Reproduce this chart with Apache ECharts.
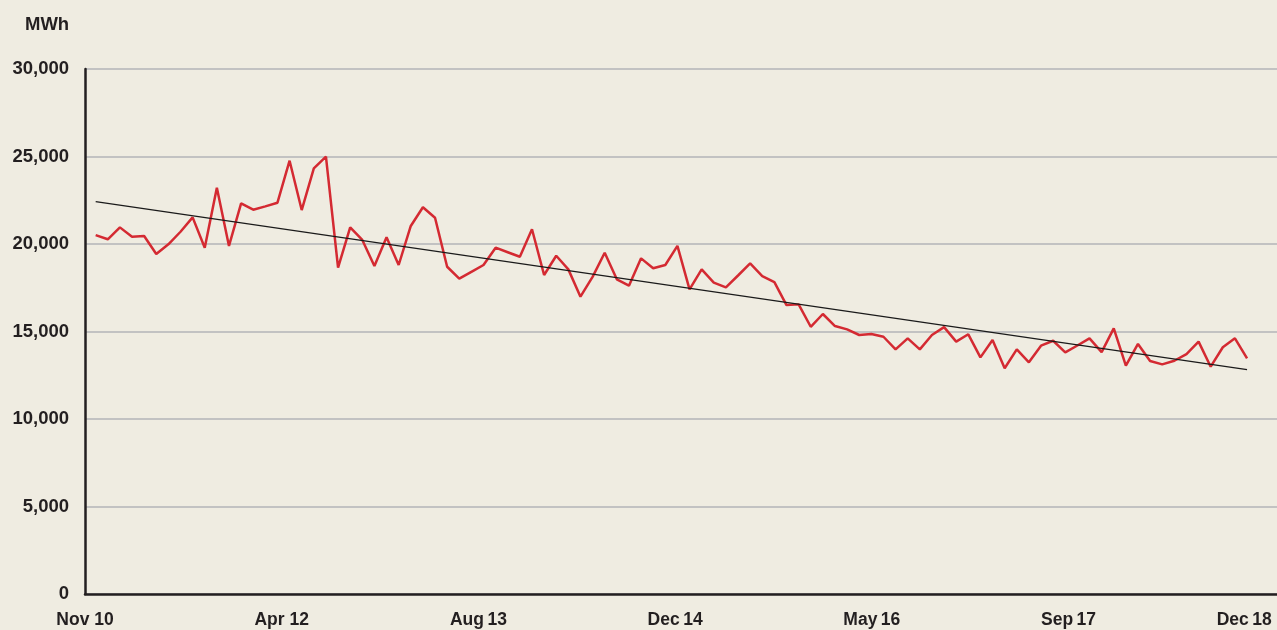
<!DOCTYPE html>
<html>
<head>
<meta charset="utf-8">
<title>MWh</title>
<script src="https://cdn.jsdelivr.net/npm/echarts@6/dist/echarts.min.js"></script>
<style>
  html, body { margin: 0; padding: 0; background: #efece1; }
  #chart { width: 1277px; height: 630px; }
</style>
</head>
<body>
<div id="chart"></div>
<script>
// monthly consumption, MWh (one value per month)
const consumption = [
  20510, 20270, 20950, 20420, 20460, 19430, 19980, 20700, 21520, 19790,
  23220, 19890, 22320, 21960, 22150, 22360, 24760, 21940, 24320, 24990,
  18650, 20950, 20230, 18740, 20380, 18800, 21030, 22100, 21500, 18700,
  18020, 18410, 18800, 19790, 19530, 19270, 20840, 18230, 19330, 18550,
  16990, 18120, 19500, 17980, 17620, 19180, 18610, 18800, 19890, 17410,
  18550, 17790, 17520, 18200, 18890, 18170, 17820, 16510, 16550, 15270,
  16000, 15310, 15120, 14800, 14860, 14700, 13980, 14610, 13980, 14800,
  15250, 14420, 14840, 13520, 14510, 12900, 13980, 13240, 14190, 14470,
  13810, 14200, 14610, 13820, 15180, 13050, 14290, 13310, 13120, 13330,
  13710, 14420, 12990, 14100, 14610, 13470
];
// trend line, value at first and last month
const trendEnds = [22420, 12820];
const xTickLabels = ['Nov 10', 'Apr 12', 'Aug\u200913', 'Dec\u200914', 'May\u200916', 'Sep\u200917', 'Dec\u200918'];
const yTicks = [0, 5000, 10000, 15000, 20000, 25000, 30000];

const xOffset = 0.88;     // first month sits a little right of the axis start
const labelStep = 16.23;  // label spacing in months
const xMax = 98.35;

const lineData = consumption.map((v, i) => [i + xOffset, v]);
const trendData = [
  [xOffset, trendEnds[0]],
  [consumption.length - 1 + xOffset, trendEnds[1]]
];

const font = '"Liberation Sans", Arial, sans-serif';
const ink = '#231f20';

const chart = echarts.init(document.getElementById('chart'));
chart.setOption({
  backgroundColor: '#efece1',
  animation: false,
  title: {
    text: 'MWh',
    left: 20,
    top: 10,
    textStyle: { fontFamily: font, fontSize: 18.5, fontWeight: 'bold', color: ink }
  },
  grid: {
    left: 85, right: 0, top: 69, bottom: 36,
    containLabel: false,
    outerBoundsMode: 'none'
  },
  xAxis: {
    type: 'value',
    min: 0,
    max: xMax,
    interval: labelStep,
    axisLine: { show: true, lineStyle: { color: ink, width: 2.5 } },
    axisTick: { show: false },
    splitLine: { show: false },
    axisLabel: {
      margin: 17,
      fontFamily: font,
      fontSize: 17.5,
      fontWeight: 'bold',
      color: ink,
      formatter: (v) => {
        const j = Math.round(v / labelStep);
        if (Math.abs(v - j * labelStep) > 0.01) return '';
        if (j === xTickLabels.length - 1) return '{r|' + xTickLabels[j] + '}';
        return xTickLabels[j] || '';
      },
      rich: {
        r: {
          fontFamily: font, fontSize: 17.5, fontWeight: 'bold', color: ink,
          padding: [0, 42, 0, 0]
        }
      }
    }
  },
  yAxis: {
    type: 'value',
    min: yTicks[0],
    max: yTicks[yTicks.length - 1],
    interval: yTicks[1] - yTicks[0],
    axisLine: { show: true, lineStyle: { color: ink, width: 2.5 } },
    axisTick: { show: false },
    splitLine: { show: true, lineStyle: { color: '#c2c2c2', width: 2 } },
    axisLabel: {
      margin: 16,
      fontFamily: font,
      fontSize: 18.5,
      fontWeight: 'bold',
      color: ink,
      formatter: (v) => v.toLocaleString('en-US')
    }
  },
  series: [
    {
      name: 'MWh',
      type: 'line',
      data: lineData,
      symbol: 'none',
      lineStyle: { color: '#d42a32', width: 2.5 },
      z: 3
    },
    {
      name: 'Trend',
      type: 'line',
      data: trendData,
      symbol: 'none',
      lineStyle: { color: '#1a1a1a', width: 1.2 },
      z: 4
    }
  ]
});
</script>
</body>
</html>
